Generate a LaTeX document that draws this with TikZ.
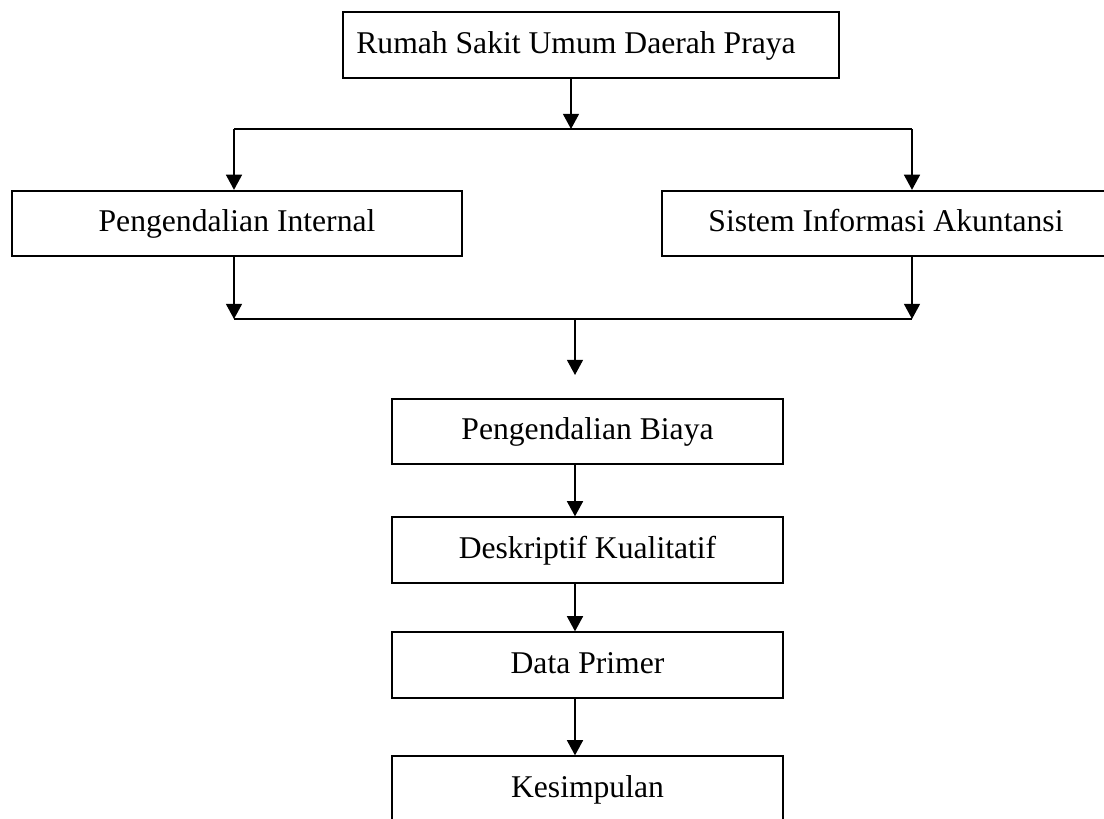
\documentclass[tikz,border=0pt]{standalone}
\usepackage{fontspec}
\setmainfont{Liberation Serif}
\usetikzlibrary{arrows.meta}

\begin{document}
\begin{tikzpicture}[x=0.025cm,y=-0.025cm,
	box/.style={draw,line width=1.2pt,minimum height=1.64cm,inner sep=0pt,
		font=\fontsize{22.5}{27}\selectfont,text height=15.3pt,text depth=3.6pt},
	arr/.style={line width=1.2pt,-{Triangle[length=0.38cm,width=0.4cm]}},
	ln/.style={line width=1.2pt}]
	\clip (0,0) rectangle (1104,818);
	\node[box,minimum width=12.4cm] (rs) at (591,45) {Rumah Sakit Umum Daerah Praya\hspace*{0.75cm}};
	\node[box,minimum width=11.25cm] (pi) at (237,223.5) {Pengendalian Internal};
	\node[box,minimum width=11.2cm] (sia) at (886,223.5) {Sistem Informasi Akuntansi};
	\node[box,minimum width=9.78cm] (pb) at (587.5,431.5) {Pengendalian Biaya};
	\node[box,minimum width=9.78cm] (dk) at (587.5,550) {Deskriptif Kualitatif};
	\node[box,minimum width=9.78cm] (dp) at (587.5,665) {Data Primer};
	\node[box,minimum width=9.78cm] (ks) at (587.5,789) {Kesimpulan};
	\coordinate (j1) at (571,129);
	\coordinate (jl) at (234,129);
	\coordinate (jr) at (912,129);
	\coordinate (kl) at (234,319);
	\coordinate (kr) at (912,319);
	\coordinate (km) at (575,319);
	\coordinate (km2) at (575,375);
	\draw[arr] (rs.south -| j1) -- (j1);
	\draw[ln] (jl) -- (jr);
	\draw[arr] (jl) -- (pi.north -| jl);
	\draw[arr] (jr) -- (sia.north -| jr);
	\draw[arr] (pi.south -| kl) -- (kl);
	\draw[arr] (sia.south -| kr) -- (kr);
	\draw[ln] (kl) -- (kr);
	\draw[arr] (km) -- (km2);
	\draw[arr] (pb.south -| km) -- (dk.north -| km);
	\draw[arr] (dk.south -| km) -- (dp.north -| km);
	\draw[arr] (dp.south -| km) -- (ks.north -| km);
\end{tikzpicture}
\end{document}
